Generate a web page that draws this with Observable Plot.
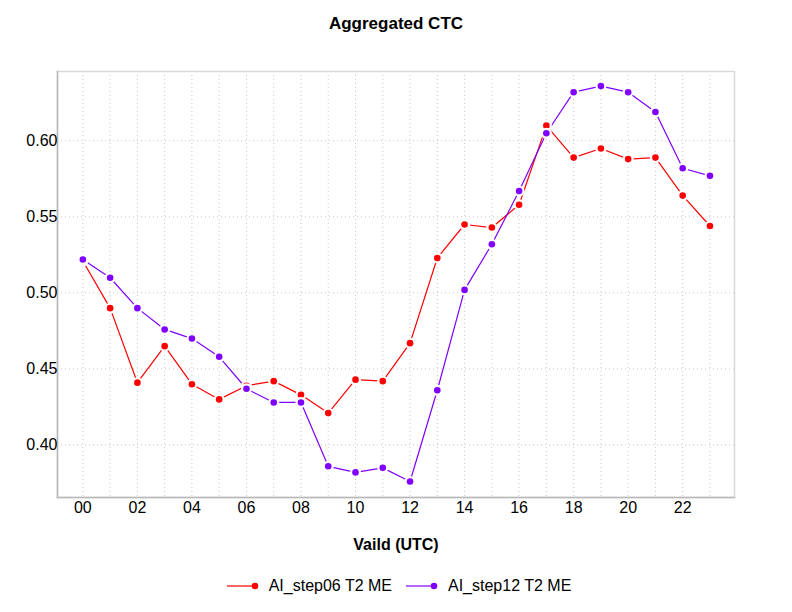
<!DOCTYPE html>
<html>
<head>
<meta charset="utf-8">
<script src="https://cdn.jsdelivr.net/npm/d3@7"></script>
<script src="https://cdn.jsdelivr.net/npm/@observablehq/plot@0.6"></script>
<style>
  html, body { margin: 0; padding: 0; background: #fff; }
  body { width: 792px; height: 612px; font-family: "Liberation Sans", Arial, sans-serif; }
  #title { height: 50px; line-height: 48px; text-align: center; font-weight: bold; font-size: 17px; color: #000; }
  #legend { height: 52px; display: flex; justify-content: center; align-items: center; gap: 14px; font-size: 16px; color: #000; padding-left: 6px; box-sizing: border-box; }
  .item { display: flex; align-items: center; gap: 8px; }
</style>
</head>
<body>
<div id="title">Aggregated CTC</div>
<div id="chart"></div>
<div id="legend"></div>
<script>
const hours = d3.range(0, 24);
const hourLabels = hours.map(h => String(h).padStart(2, "0"));
const seriesNames = ["AI_step06 T2 ME", "AI_step12 T2 ME"];
const seriesColors = ["#ff0000", "#7f00ff"];
const step06 = [0.521, 0.490, 0.441, 0.465, 0.440, 0.430, 0.439, 0.442, 0.433, 0.421, 0.443, 0.442,
                0.467, 0.523, 0.545, 0.543, 0.558, 0.610, 0.589, 0.595, 0.588, 0.589, 0.564, 0.544];
const step12 = [0.522, 0.510, 0.490, 0.476, 0.470, 0.458, 0.437, 0.428, 0.428, 0.386, 0.382, 0.385,
                0.376, 0.436, 0.502, 0.532, 0.567, 0.605, 0.632, 0.636, 0.632, 0.619, 0.582, 0.577];
const yTicks = [0.40, 0.45, 0.50, 0.55, 0.60];
const xTicks = [0, 2, 4, 6, 8, 10, 12, 14, 16, 18, 20, 22];

const rows = [];
[step06, step12].forEach((vals, i) => vals.forEach((v, h) => rows.push({hour: hours[h], value: v, series: seriesNames[i]})));
const r06 = rows.filter(d => d.series === seriesNames[0]);
const r12 = rows.filter(d => d.series === seriesNames[1]);

const plot = Plot.plot({
  width: 792,
  height: 510,
  marginTop: 21,
  marginLeft: 57,
  marginRight: 58,
  marginBottom: 63,
  style: {fontFamily: "Liberation Sans, Arial, sans-serif", fontSize: "16px", color: "#000", background: "#fff"},
  x: {domain: [-0.93, 23.9], ticks: xTicks, tickFormat: d => hourLabels[d], label: null},
  y: {domain: [0.3655, 0.6456], ticks: yTicks, tickFormat: d3.format(".2f"), label: null},
  marks: [
    Plot.gridX(hours, {stroke: "#c8c8c8", strokeOpacity: 1, strokeDasharray: "1,3"}),
    Plot.gridY(yTicks, {stroke: "#c8c8c8", strokeOpacity: 1, strokeDasharray: "1,3"}),
    Plot.frame({stroke: "#d9d9d9", strokeWidth: 1.5}),
    Plot.frame({anchor: "left", stroke: "#b8b8b8", strokeWidth: 1.5}),
    Plot.frame({anchor: "bottom", stroke: "#b8b8b8", strokeWidth: 1.5}),
    Plot.axisX({ticks: xTicks, tickSize: 0, tickPadding: 4, fontSize: 16, tickFormat: d => hourLabels[d],
                label: "Vaild (UTC)", labelAnchor: "center", labelArrow: "none", labelOffset: 52}),
    Plot.axisY({ticks: yTicks, tickSize: 0, tickPadding: 0, fontSize: 16, tickFormat: d3.format(".2f"), label: null}),
    Plot.line(r06, {x: "hour", y: "value", stroke: seriesColors[0], strokeWidth: 1.2}),
    Plot.line(r12, {x: "hour", y: "value", stroke: seriesColors[1], strokeWidth: 1.2}),
    Plot.dot(r06, {x: "hour", y: "value", r: 5.5, fill: "#fff", stroke: "none"}),
    Plot.dot(r06, {x: "hour", y: "value", r: 3.3, fill: seriesColors[0], stroke: "none"}),
    Plot.dot(r12, {x: "hour", y: "value", r: 5.5, fill: "#fff", stroke: "none"}),
    Plot.dot(r12, {x: "hour", y: "value", r: 3.3, fill: seriesColors[1], stroke: "none"})
  ]
});
document.getElementById("chart").appendChild(plot);
d3.select(plot).selectAll("[aria-label='x-axis label'] text, [aria-label='x-axis label']").attr("font-weight", "bold");

const legend = document.getElementById("legend");
seriesNames.forEach((name, i) => {
  const item = document.createElement("div");
  item.className = "item";
  item.innerHTML = `<svg width="34" height="12"><line x1="0" y1="6" x2="28" y2="6" stroke="${seriesColors[i]}" stroke-width="1.2"/><circle cx="28" cy="6" r="3.3" fill="${seriesColors[i]}"/></svg><span>${name}</span>`;
  legend.appendChild(item);
});
</script>
</body>
</html>
